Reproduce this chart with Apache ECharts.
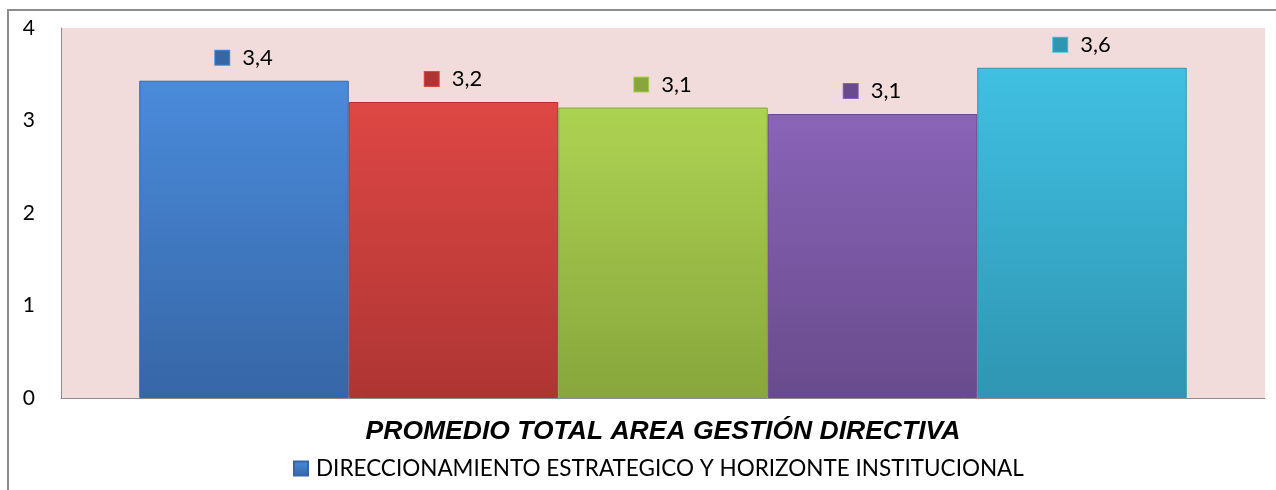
<!DOCTYPE html>
<html><head><meta charset="utf-8">
<script src="https://cdn.jsdelivr.net/npm/echarts@6/dist/echarts.min.js"></script>
<style>html,body{margin:0;padding:0;background:#fff}#c{width:1276px;height:490px}</style>
</head><body><div id="c"></div>
<script>
const categories = ['PROMEDIO TOTAL AREA GESTIÓN DIRECTIVA'];
const seriesNames = [
  'DIRECCIONAMIENTO ESTRATEGICO Y HORIZONTE INSTITUCIONAL',
  'GESTIÓN ESTRATÉGICA',
  'GOBIERNO ESCOLAR',
  'CULTURA INSTITUCIONAL',
  'CLIMA ESCOLAR'
];
const seriesValues = [3.43, 3.2, 3.14, 3.07, 3.57];
const yTicks = [0, 1, 2, 3, 4];
const colorTop = ['#4A8BDB', '#DE4744', '#ADD352', '#8A64B8', '#40C0E2'];
const colorBot = ['#3666A6', '#AE3533', '#88A63C', '#684B8C', '#2F95B2'];

const chart = echarts.init(document.getElementById('c'));
const fmt = v => v.toFixed(1).replace('.', ',');
const series = seriesNames.map((name, i) => ({
  name, type: 'bar', data: [seriesValues[i]],
  barGap: '0%', barCategoryGap: '13%',
  itemStyle: {
    color: new echarts.graphic.LinearGradient(0, 0, 0, 1, [
      {offset: 0, color: colorTop[i]}, {offset: 1, color: colorBot[i]}
    ]),
    borderColor: colorBot[i], borderWidth: 1
  },
  label: {
    show: true, position: 'top', distance: 12,
    formatter: p => '{sq|}{g|}{v|' + fmt(p.value) + '}',
    rich: {
      sq: {width: 14, height: 14, backgroundColor: colorBot[i], borderColor: colorTop[i], borderWidth: 1},
      g: {width: 13},
      v: {fontSize: 22, color: '#000', fontFamily: 'Lato, "Open Sans", sans-serif'}
    }
  }
}));

chart.setOption({
  animation: false,
  graphic: [{type: 'rect', shape: {x: 8, y: 10, width: 1300, height: 500},
    style: {fill: 'none', stroke: '#8c8c8c', lineWidth: 2}, z: -10}],
  grid: {left: 61, top: 28, right: 11, bottom: 92, backgroundColor: '#F2DCDB', show: true, borderWidth: 0},
  legend: {
    data: [seriesNames[0]], top: 452, left: 288,
    itemWidth: 14, itemHeight: 14, itemGap: 10,
    icon: 'rect',
    textStyle: {fontSize: 22.5, color: '#000', fontFamily: 'Lato, "Open Sans", sans-serif', padding: [0, 0, 0, 3]}
  },
  xAxis: {
    type: 'category', data: categories,
    axisLine: {lineStyle: {color: '#8c8c8c', width: 1}},
    axisTick: {show: false},
    axisLabel: {margin: 20, fontSize: 26.5, fontWeight: 'bold', fontStyle: 'italic', color: '#000', fontFamily: '"Liberation Sans", Arial, sans-serif'}
  },
  yAxis: {
    type: 'value', min: yTicks[0], max: yTicks[yTicks.length - 1], interval: 1,
    axisLine: {show: true, lineStyle: {color: '#8c8c8c'}},
    axisTick: {show: false},
    splitLine: {show: false},
    axisLabel: {margin: 26, fontSize: 21, color: '#000', fontFamily: 'Lato, "Open Sans", sans-serif'}
  },
  series
});
</script></body></html>
